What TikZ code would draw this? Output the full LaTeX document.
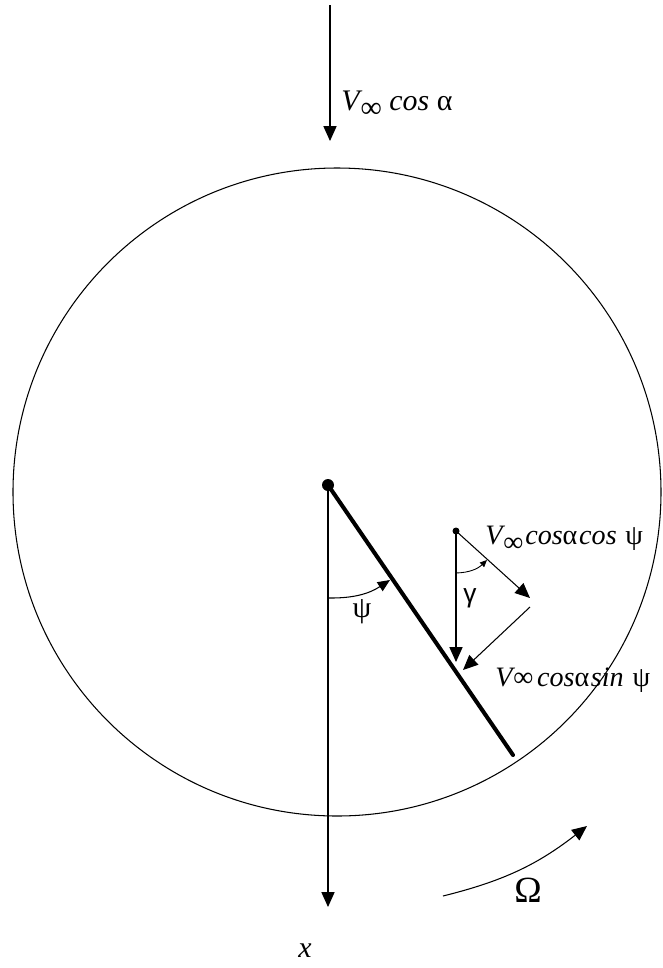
\documentclass[tikz,border=0pt]{standalone}
\usepackage{fontspec}
\setmainfont{Liberation Serif}
\newfontfamily\greeksans{Liberation Sans}
\usetikzlibrary{arrows.meta,positioning,calc}
\newcommand{\vinf}{\textit{V}\kern-1pt\raisebox{-4pt}{∞}}
\tikzset{
  rim/.style={
    draw=black,
    line width=0.6pt
  }
}
\tikzset{
  blade/.style={
    draw=black,
    line width=2.3pt,
    line cap=round
  }
}
\tikzset{
  vector/.style={
    -{Triangle[length=8.5pt,width=7.5pt]},
    draw=black,
    line width=0.6pt
  }
}
\tikzset{
  angle arrow/.style={
    -{Triangle[length=7pt,width=6pt]},
    draw=black,
    line width=0.6pt
  }
}
\tikzset{
  small angle arrow/.style={
    -{Triangle[length=4pt,width=3.5pt]},
    draw=black,
    line width=0.5pt
  }
}
\tikzset{
  label text/.style={
    inner sep=0pt,
    font=\fontsize{17}{20}\selectfont
  }
}
\tikzset{
  small label text/.style={
    inner sep=0pt,
    font=\fontsize{16}{19}\selectfont
  }
}
\begin{document}
\begin{tikzpicture}[x=0.02cm,y=-0.02cm]

    \useasboundingbox (0,0) rectangle (663,968);

    % ------------------------------------------------------------
    % Points
    % ------------------------------------------------------------

    \coordinate (rim centre) at (337,492);
    \coordinate (hub) at (328,485);
    \coordinate (blade end) at (513,755);
    \coordinate (x end) at (328,907);
    \coordinate (flow top) at (330,5);
    \coordinate (flow end) at (330,141);
    \coordinate (psi start) at (328,598);
    \coordinate (psi end) at (390,580);
    \coordinate (point) at (456,531);
    \coordinate (point down) at (456,662);
    \coordinate (point diag) at (530,598);
    \coordinate (normal start) at (530,607);
    \coordinate (normal end) at (463,670);
    \coordinate (gamma start) at (456,573);
    \coordinate (gamma end) at (487,560);
    \coordinate (omega start) at (443,896);
    \coordinate (omega end) at (587,826);

    % ------------------------------------------------------------
    % Disk, blade and axis
    % ------------------------------------------------------------

    \draw[rim] (rim centre) circle[radius=324];

    \draw[blade] (hub) -- (blade end);
    \fill (hub) circle[radius=6];

    \draw[vector] (hub) -- (x end);

    % Incoming flow
    \draw[vector] (flow top) -- (flow end);

    % Blade angle
    \draw[angle arrow] (psi start) to[bend right=17] (psi end);

    % ------------------------------------------------------------
    % Velocity decomposition
    % ------------------------------------------------------------

    \fill (point) circle[radius=3.5];
    \draw[vector] (point) -- (point down);
    \draw[vector] (point) -- (point diag);
    \draw[vector] (normal start) -- (normal end);
    \draw[small angle arrow] (gamma start) to[bend right=21] (gamma end);

    % Rotation
    \draw[vector] (omega start) to[bend right=12] (omega end);

    % ------------------------------------------------------------
    % Labels
    % ------------------------------------------------------------

    \node[label text, anchor=base west] (flow label) at (341,110)
    {
      \vinf{} \textit{cos} α
    };

    \node[small label text, anchor=base west] (along label) at (485,544)
    {
      \vinf{}\kern1pt\textit{cos}α\kern1pt\textit{cos}\kern5pt ψ
    };

    \node[small label text, anchor=base west] (normal label) at (495,686)
    {
      \textit{V}\kern-1pt∞\kern2pt\textit{cos}α\kern1pt\textit{sin}\kern5pt ψ
    };

    \node[label text] (psi label) at (362,612) {ψ};

    \node[label text, font=\fontsize{15}{18}\selectfont\greeksans] (gamma label) at (470,598) {γ};

    \node[label text, font=\fontsize{21}{24}\selectfont] (omega label) at (528,890) {Ω};

    \node[label text] (x label) at (305,951) {\textit{x}};

\end{tikzpicture}
\end{document}
